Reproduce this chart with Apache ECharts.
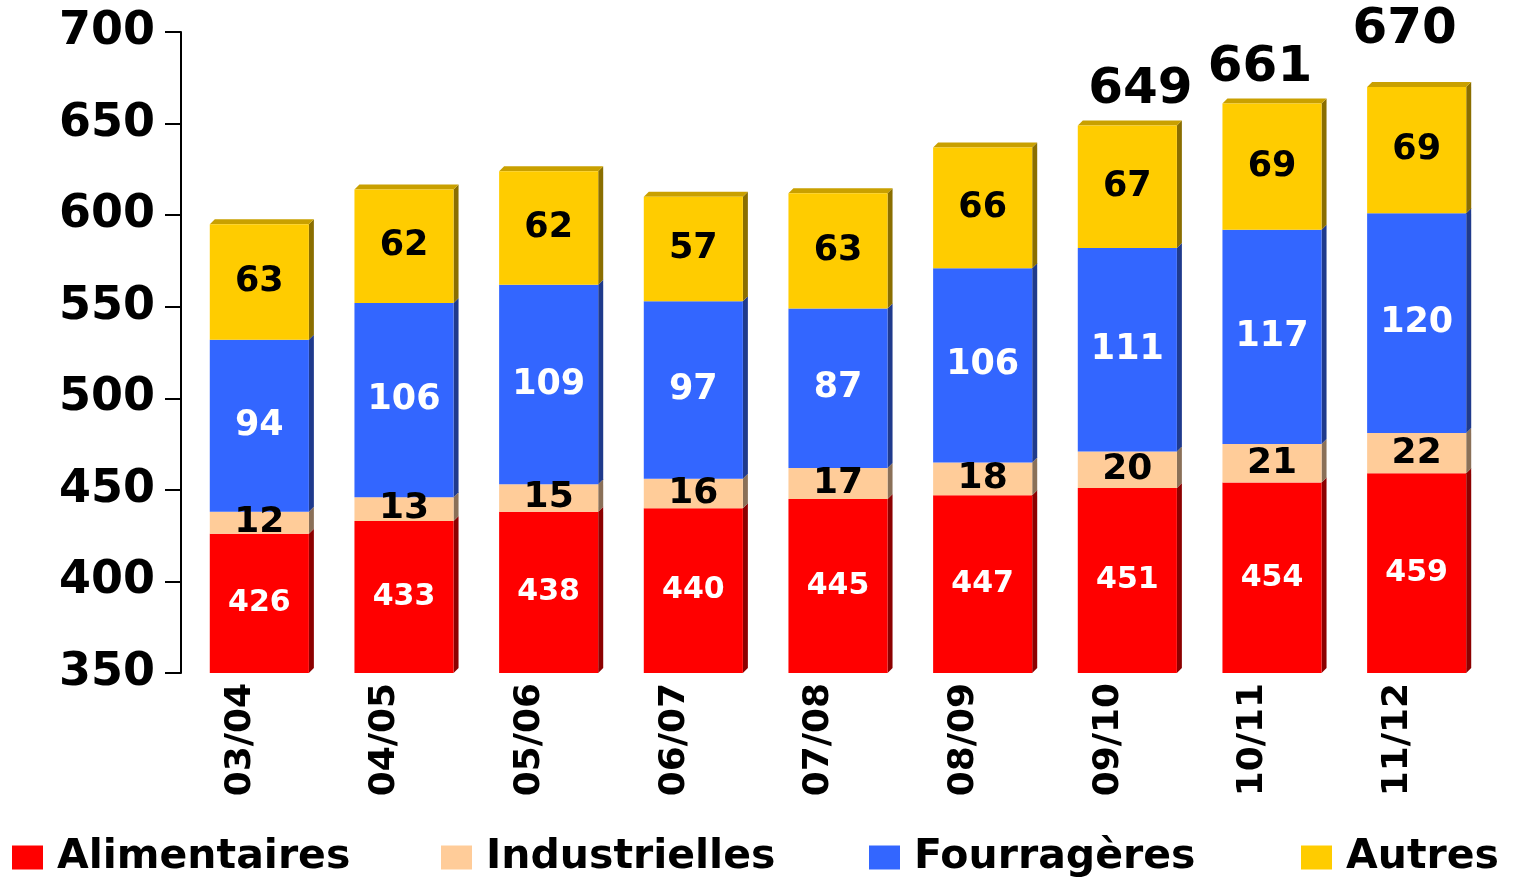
<!DOCTYPE html>
<html>
<head>
<meta charset="utf-8">
<script src="https://cdn.jsdelivr.net/npm/echarts@6/dist/echarts.min.js"></script>
<style>
  html, body {margin: 0; padding: 0; background: #fff;}
  #chart {width: 1517px; height: 879px;}
</style>
</head>
<body>
<div id="chart"></div>
<script>
var categories = ['03/04', '04/05', '05/06', '06/07', '07/08', '08/09', '09/10', '10/11', '11/12'];
var alimentaires = [426, 433, 438, 440, 445, 447, 451, 454, 459];
var industrielles = [12, 13, 15, 16, 17, 18, 20, 21, 22];
var fourrageres = [94, 106, 109, 97, 87, 106, 111, 117, 120];
var autres = [63, 62, 62, 57, 63, 66, 67, 69, 69];
var totalShown = [false, false, false, false, false, false, true, true, true];
var yTicks = [350, 400, 450, 500, 550, 600, 650, 700];

var FONT = 'DejaVu Sans';
var names = ['Alimentaires', 'Industrielles', 'Fourragères', 'Autres'];
var colors = ['#ff0000', '#ffcc99', '#3366ff', '#ffcc00'];
var sideColors = ['#8c0000', '#8a7058', '#1f3a8c', '#8a6e00'];
var topColor = '#c9a000';
var labelColors = ['#fff', '#000', '#fff', '#000'];
var labelSizes = [30, 36, 35, 35];
var stacks = [alimentaires, industrielles, fourrageres, autres];
// small nudges of the total labels, as in the original slide
var totalDx = [0, 0, 0, 0, 0, 0, 13, -12, -12];
var totalDy = [0, 0, 0, 0, 0, 0, 0, 0, 22];

// segments for the 3d side faces: [cat, base, top, seg]
var segs = [];
categories.forEach(function (c, i) {
    var base = 0;
    stacks.forEach(function (arr, s) {
        var lo = s === 0 ? yTicks[0] : base;
        segs.push([i, lo, base + arr[i], s]);
        base += arr[i];
    });
});

var chart = echarts.init(document.getElementById('chart'));

var series = stacks.map(function (arr, s) {
    return {
        name: names[s], type: 'bar', stack: 'total', data: arr, barWidth: '68.5%',
        itemStyle: {color: colors[s]},
        label: {show: true, position: 'inside', color: labelColors[s],
            fontFamily: FONT, fontWeight: 'bold', fontSize: labelSizes[s]},
        z: 3
    };
});

var D = 5;
series.push({
    type: 'custom', silent: true, z: 2, data: segs,
    encode: {x: 0, y: [1, 2]},
    renderItem: function (params, api) {
        var i = api.value(0), s = api.value(3);
        var w = api.size([1, 0])[0] * 0.685;
        var pb = api.coord([i, api.value(1)]);
        var pt = api.coord([i, api.value(2)]);
        var x0 = pb[0] - w / 2, x1 = pb[0] + w / 2, yb = pb[1], yt = pt[1];
        var children = [{
            type: 'polygon',
            shape: {points: [[x1, yt], [x1 + D, yt - D], [x1 + D, yb - D], [x1, yb]]},
            style: {fill: sideColors[s]}
        }];
        if (s === 3) {
            children.push({
                type: 'polygon',
                shape: {points: [[x0, yt], [x0 + D, yt - D], [x1 + D, yt - D], [x1, yt]]},
                style: {fill: topColor}
            });
            if (totalShown[i]) {
                children.push({
                    type: 'text',
                    style: {text: String(api.value(2)), x: pb[0] + totalDx[i], y: yt - 10 - totalDy[i],
                        align: 'center', verticalAlign: 'bottom',
                        font: 'bold 50px "DejaVu Sans"', fill: '#000'}
                });
            }
        }
        return {type: 'group', children: children};
    }
});

var legendX = [12, 441, 869, 1301];
var legends = names.map(function (n, s) {
    return {
        data: [n], left: legendX[s], top: 837, padding: 0, itemWidth: 31, itemHeight: 24,
        icon: 'rect', selectedMode: false,
        textStyle: {fontFamily: FONT, fontWeight: 'bold', fontSize: 41, color: '#000',
            padding: [0, 0, 0, 9], lineHeight: 40}
    };
});

chart.setOption({
    animation: false,
    backgroundColor: '#fff',
    grid: {left: 187, right: 28, top: 32, bottom: 206, containLabel: false},
    legend: legends,
    xAxis: {
        type: 'category', data: categories,
        axisLine: {show: false}, axisTick: {show: false},
        axisLabel: {rotate: 90, margin: 10, color: '#000', fontFamily: FONT,
            fontWeight: 'bold', fontSize: 36, verticalAlign: 'bottom', lineHeight: 38}
    },
    yAxis: {
        type: 'value', min: yTicks[0], max: yTicks[yTicks.length - 1], interval: 50, offset: 6,
        splitLine: {show: false},
        axisLine: {show: true, lineStyle: {color: '#000', width: 2}},
        axisTick: {show: true, length: 16, lineStyle: {color: '#000', width: 2}},
        axisLabel: {margin: 26, color: '#000', fontFamily: FONT, fontWeight: 'bold', fontSize: 46}
    },
    series: series
});
</script>
</body>
</html>
